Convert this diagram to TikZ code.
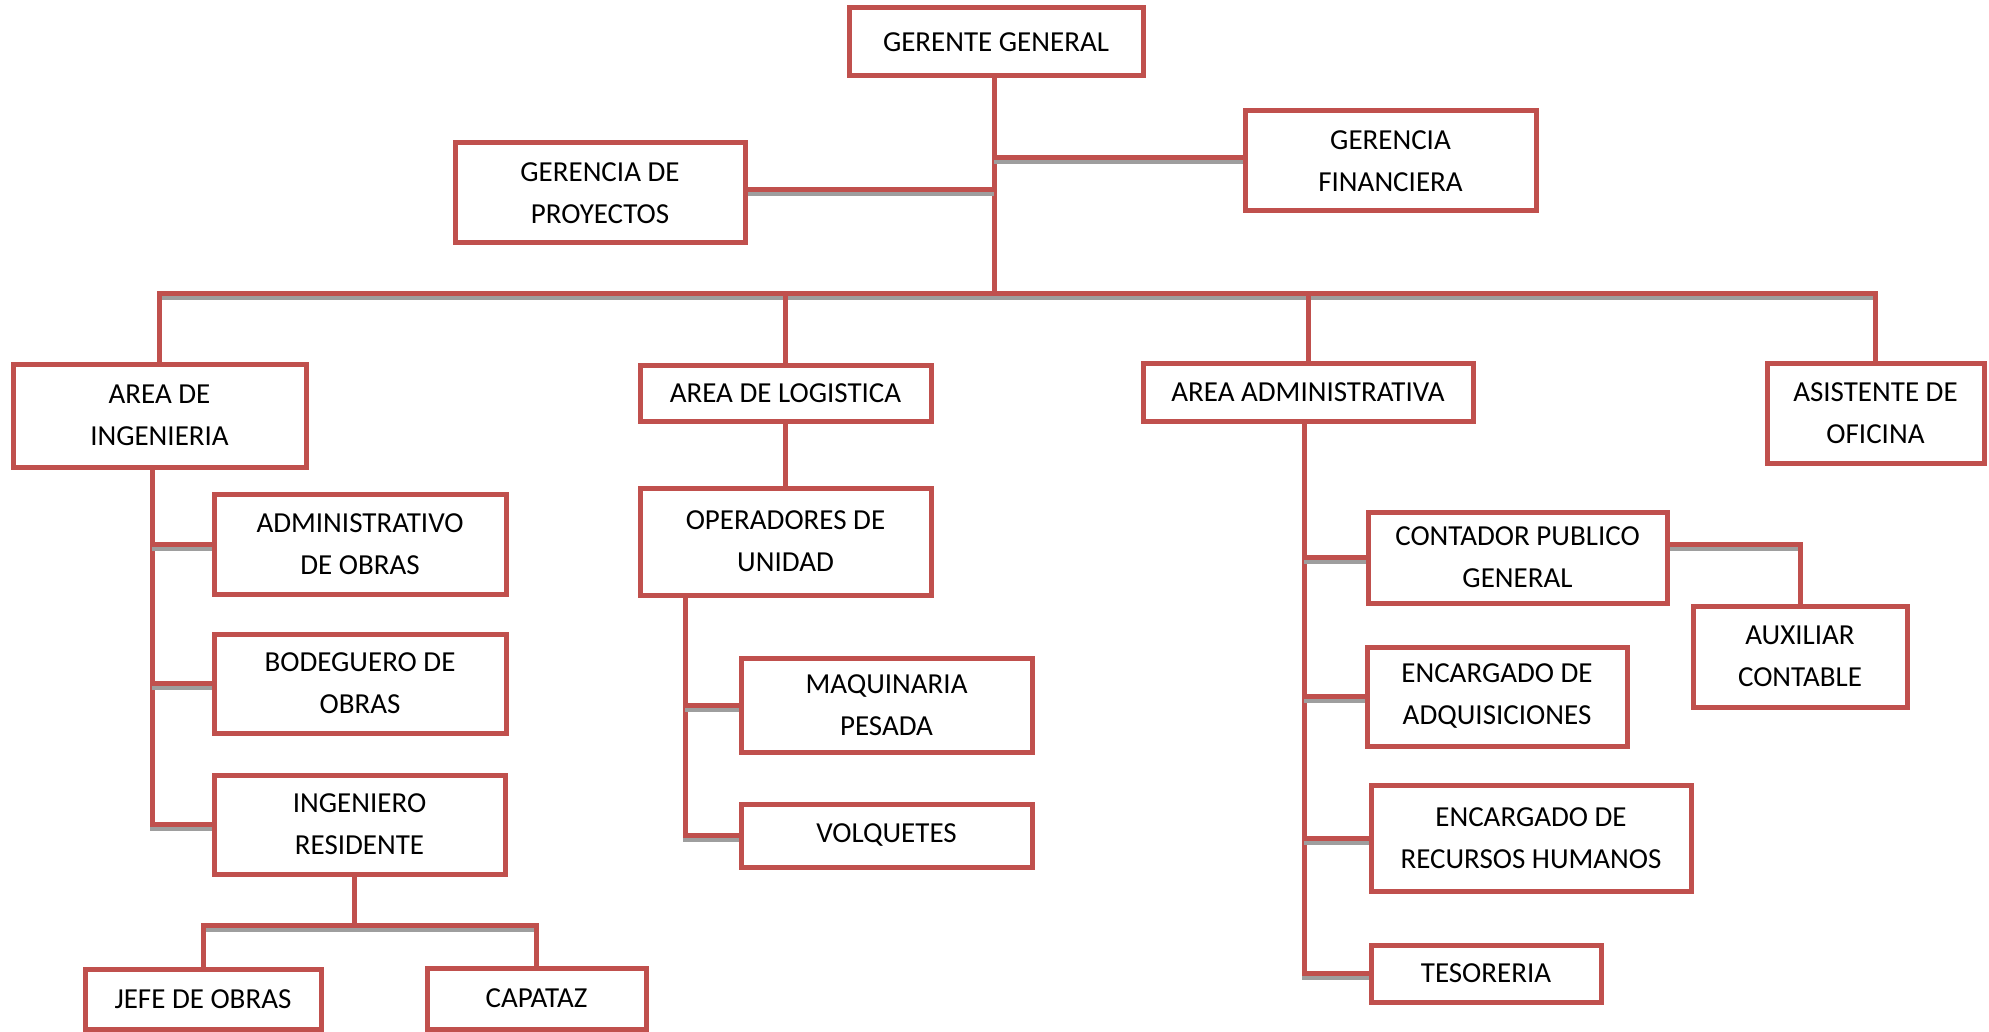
\documentclass[tikz,border=0pt]{standalone}
\usepackage{fontspec}
\setmainfont{Carlito}
\usetikzlibrary{calc}
\definecolor{boxred}{HTML}{C0504D}
\definecolor{shadegray}{HTML}{9E9E9E}
\pgfdeclarelayer{bg}
\pgfsetlayers{bg,main}
\tikzset{
  orgbox/.style={draw=boxred, line width=5pt, fill=white, inner sep=0pt,
    align=center, font=\fontsize{29}{42}\selectfont},
  conn/.style={draw=boxred, line width=5pt,
    preaction={draw=shadegray, line width=5pt, transform canvas={shift={(0pt,-4pt)}}}},
}
\begin{document}
\begin{tikzpicture}[x=1pt,y=-1pt]
\useasboundingbox (0,0) rectangle (1989,1032);

% top management
\node[orgbox, minimum width=294, minimum height=68] (gg) at (996,42) {GERENTE GENERAL};
\node[orgbox, minimum width=290, minimum height=100] (gp) at (600,193) {GERENCIA DE\\PROYECTOS};
\node[orgbox, minimum width=291, minimum height=100] (gf) at (1390.5,161) {GERENCIA\\FINANCIERA};

% areas
\node[orgbox, minimum width=293, minimum height=103] (ai) at (159.5,415.5) {AREA DE\\INGENIERIA};
\node[orgbox, minimum width=291, minimum height=56] (al) at (785.5,393) {AREA DE LOGISTICA};
\node[orgbox, minimum width=330, minimum height=58] (aa) at (1308,392) {AREA ADMINISTRATIVA};
\node[orgbox, minimum width=217, minimum height=100] (ao) at (1875.5,413) {ASISTENTE DE\\OFICINA};

% engineering
\node[orgbox, minimum width=292, minimum height=100] (ad) at (360,544) {ADMINISTRATIVO\\DE OBRAS};
\node[orgbox, minimum width=292, minimum height=99] (bo) at (360,683.5) {BODEGUERO DE\\OBRAS};
\node[orgbox, minimum width=291, minimum height=99] (ir) at (359.5,824.5) {INGENIERO\\RESIDENTE};
\node[orgbox, minimum width=236, minimum height=60] (jo) at (203,999) {JEFE DE OBRAS};
\node[orgbox, minimum width=219, minimum height=61] (cp) at (536.5,998.5) {CAPATAZ};

% logistics
\node[orgbox, minimum width=291, minimum height=107] (ou) at (785.5,541.5) {OPERADORES DE\\UNIDAD};
\node[orgbox, minimum width=291, minimum height=94] (mp) at (886.5,705) {MAQUINARIA\\PESADA};
\node[orgbox, minimum width=291, minimum height=63] (vo) at (886.5,835.5) {VOLQUETES};

% administration
\node[orgbox, minimum width=299, minimum height=91] (cg) at (1517.5,557.5) {CONTADOR PUBLICO\\GENERAL};
\node[orgbox, minimum width=214, minimum height=101] (ac) at (1800,656.5) {AUXILIAR\\CONTABLE};
\node[orgbox, minimum width=260, minimum height=99] (ea) at (1497,696.5) {ENCARGADO DE\\ADQUISICIONES};
\node[orgbox, minimum width=320, minimum height=106] (rh) at (1531,838) {ENCARGADO DE\\RECURSOS HUMANOS};
\node[orgbox, minimum width=230, minimum height=57] (te) at (1486,973.5) {TESORERIA};

% junction points
\coordinate (trunk) at (994,294);
\coordinate (jf) at (994,158);
\coordinate (jp) at (994,190);
\coordinate (aiv) at (152,468);
\coordinate (irbus) at (354,925);
\coordinate (ouv) at (685,596);
\coordinate (aav) at (1304,422);
\coordinate (cgout) at (1668,544);

\begin{pgfonlayer}{bg}
  % trunk and upper branches
  \draw[conn] (gg.south -| trunk) -- (trunk);
  \draw[conn] (jf) -- (jf -| gf.west);
  \draw[conn] (gp.east |- jp) -- (jp);
  % bus to the areas
  \draw[conn] (ai.north) -- (ai.north |- trunk) -- (ao.north |- trunk) -- (ao.north);
  \draw[conn] (al.north |- trunk) -- (al.north);
  \draw[conn] (aa.north |- trunk) -- (aa.north);
  % engineering branch
  \draw[conn] (aiv) -- (aiv |- ir.west) -- (ir.west);
  \draw[conn] (aiv |- ad.west) -- (ad.west);
  \draw[conn] (aiv |- bo.west) -- (bo.west);
  \draw[conn] (ir.south -| irbus) -- (irbus);
  \draw[conn] (jo.north) -- (jo.north |- irbus) -- (cp.north |- irbus) -- (cp.north);
  % logistics branch
  \draw[conn] (al.south) -- (ou.north);
  \draw[conn] (ouv) -- (ouv |- vo.west) -- (vo.west);
  \draw[conn] (ouv |- mp.west) -- (mp.west);
  % administration branch
  \draw[conn] (aav) -- (aav |- te.west) -- (te.west);
  \draw[conn] (aav |- cg.west) -- (cg.west);
  \draw[conn] (aav |- ea.west) -- (ea.west);
  \draw[conn] (aav |- rh.west) -- (rh.west);
  \draw[conn] (cgout) -| (ac.north);
\end{pgfonlayer}
\end{tikzpicture}
\end{document}
